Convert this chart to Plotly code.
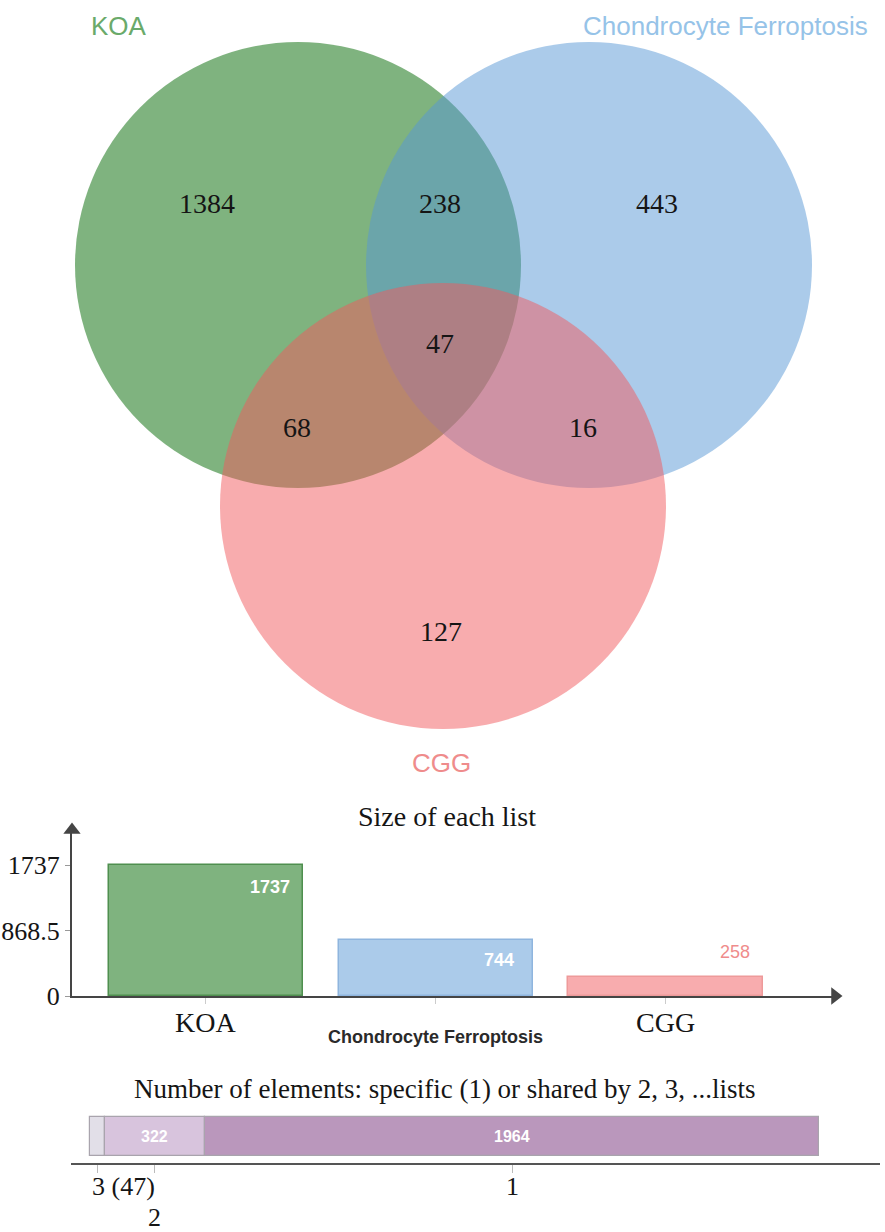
import plotly.graph_objects as go

# ---- data ----
set_names = ["KOA", "Chondrocyte Ferroptosis", "CGG"]
set_sizes = [1737, 744, 258]

region_names = ["KOA only", "KOA & CF", "CF only", "all three", "KOA & CGG", "CF & CGG", "CGG only"]
region_counts = [1384, 238, 443, 47, 68, 16, 127]

shared_labels = ["3", "2", "1"]          # shared by n lists
shared_counts = [47, 322, 1964]

size_ticks = [0, 868.5, 1737]

# ---- styling / layout ----
W, H = 885, 1232
venn_fill = ["rgba(0,103,0,0.5)", "rgba(87,151,213,0.5)", "rgba(241,89,93,0.5)"]
bar_line = ["#4f8f4f", "#8fb5de", "#ee9a9a"]
label_col = ["#6aaa6a", "#96c3e8", "#ef8c8c"]
seg_fill = ["#e2dfe8", "#d8c4dd", "#ba97bc"]
SERIF = "Liberation Serif"
SANS = "Liberation Sans"

def px(x):
    return x / W

def py(y):
    return 1 - y / H

def note(**kw):
    # centred annotation helper
    kw.setdefault("showarrow", False)
    kw.setdefault("xanchor", "center")
    kw.setdefault("yanchor", "middle")
    fig.add_annotation(**kw)

# circle centres / radius in pixel space of the venn panel
circles = [(298, 265), (589, 265), (443, 506)]
R = 223
region_pos = [(207, 206), (440, 206), (657, 206), (440, 346), (297, 430), (583, 430), (441, 634)]
set_label_pos = [(119, 26), (725, 26), (441, 763)]

fig = go.Figure()

# ---------------- venn ----------------
for (cx, cy), col in zip(circles, venn_fill):
    fig.add_shape(type="circle", xref="x", yref="y",
                  x0=cx - R, x1=cx + R, y0=cy - R, y1=cy + R,
                  fillcolor=col, line=dict(width=0), layer="below")

fig.add_trace(go.Scatter(
    x=[p[0] for p in region_pos], y=[p[1] for p in region_pos],
    text=[str(v) for v in region_counts], mode="text",
    textfont=dict(family=SERIF, size=28, color="#151515"),
    hovertext=region_names, showlegend=False, xaxis="x", yaxis="y"))

for name, (lx, ly), col in zip(set_names, set_label_pos, label_col):
    note(x=px(lx), y=py(ly), xref="paper", yref="paper", text=name,
         font=dict(family=SANS, size=26, color=col))

# ---------------- size of each list ----------------
cats = list(range(len(set_names)))
fig.add_trace(go.Bar(
    x=cats, y=set_sizes, width=0.845,
    marker=dict(color=venn_fill, line=dict(color=bar_line, width=1.5)),
    showlegend=False, xaxis="x2", yaxis="y2"))

# bar value labels
val_shift = [(64, -22, "white"), (63, -20, "white"), (70, 25, "#ef8c8c")]
for c, v, (xs, ys, col) in zip(cats, set_sizes, val_shift):
    note(x=c, y=v, xref="x2", yref="y2", text=str(v), xshift=xs, yshift=ys,
         font=dict(family=SANS, size=18, color=col,
                   weight="bold" if col == "white" else "normal"))

# category labels (mixed fonts as in the picture)
cat_font = [dict(family=SERIF, size=28, color="#151515"),
            dict(family=SANS, size=18, color="#2a2a2a", weight="bold"),
            dict(family=SERIF, size=28, color="#151515")]
cat_y = [1022, 1037, 1022]
for c, name, f, yy in zip(cats, set_names, cat_font, cat_y):
    note(x=c, y=py(yy), xref="x2", yref="paper", text=name, font=f)

x2_lo, x2_hi = -0.583, 2.738
y2_hi = (996 - 830) / 131 * 1737

# axis arrows
fig.add_trace(go.Scatter(x=[x2_hi], y=[0], mode="markers", cliponaxis=False,
                         marker=dict(symbol="triangle-right", size=15, color="#454545"),
                         showlegend=False, hoverinfo="skip", xaxis="x2", yaxis="y2"))
fig.add_trace(go.Scatter(x=[x2_lo], y=[y2_hi], mode="markers", cliponaxis=False,
                         marker=dict(symbol="triangle-up", size=15, color="#454545"),
                         showlegend=False, hoverinfo="skip", xaxis="x2", yaxis="y2"))

note(x=px(447), y=py(816), xref="paper", yref="paper", text="Size of each list",
     font=dict(family=SERIF, size=28, color="#151515"))

# ---------------- shared by n lists ----------------
total = sum(shared_counts)
start = 0
mids = []
for lab, v, col in zip(shared_labels, shared_counts, seg_fill):
    fig.add_trace(go.Bar(
        x=[v], y=[0.5], base=[start], orientation="h", width=0.72,
        marker=dict(color=col, line=dict(color="#a9a4ad", width=1.2)),
        showlegend=False, xaxis="x3", yaxis="y3"))
    mids.append(start + v / 2)
    if v > 100:
        note(x=start + v / 2, y=0.5, xref="x3", yref="y3", text=str(v),
             font=dict(family=SANS, size=16, color="white", weight="bold"))
    start += v

# tick labels under the stacked bar
tick_txt = ["%s (%d)" % (shared_labels[0], shared_counts[0]), shared_labels[1], shared_labels[2]]
tick_y = [1186, 1217, 1186]
tick_anchor = ["left", "center", "center"]
tick_shift = [-7, 0, 0]
for m, t, yy, an, xs in zip(mids, tick_txt, tick_y, tick_anchor, tick_shift):
    note(x=m, y=py(yy), xref="x3", yref="paper", text=t, xanchor=an, xshift=xs,
         font=dict(family=SERIF, size=26, color="#151515"))

note(x=px(445), y=py(1089), xref="paper", yref="paper",
     text="Number of elements: specific (1) or shared by 2, 3, ...lists",
     font=dict(family=SERIF, size=27, color="#151515"))

unit = (819 - 90) / total
x3_lo = (71 - 90) / unit
x3_hi = (880 - 90) / unit

fig.update_layout(
    width=W, height=H,
    margin=dict(l=0, r=0, t=0, b=0, autoexpand=False),
    paper_bgcolor="white", plot_bgcolor="rgba(0,0,0,0)",
    barmode="overlay", bargap=0,
    xaxis=dict(domain=[0, 1], range=[0, W], visible=False, fixedrange=True, automargin=False),
    yaxis=dict(domain=[py(790), 1], range=[790, 0], visible=False, fixedrange=True, automargin=False),
    xaxis2=dict(domain=[px(72), px(835)], range=[x2_lo, x2_hi], anchor="y2",
                showline=True, linecolor="#454545", linewidth=2, automargin=False,
                tickvals=cats, ticks="outside", ticklen=6, tickcolor="#cccccc",
                showticklabels=False, showgrid=False, zeroline=False),
    yaxis2=dict(domain=[py(996), py(830)], range=[0, y2_hi], anchor="x2",
                showline=True, linecolor="#454545", linewidth=2, automargin=False,
                tickvals=size_ticks, ticktext=[("%g" % t) for t in size_ticks],
                ticks="outside", ticklen=5, tickcolor="#999999",
                tickfont=dict(family=SERIF, size=26, color="#151515"),
                showgrid=False, zeroline=False),
    xaxis3=dict(domain=[px(71), px(880)], range=[x3_lo, x3_hi], anchor="y3",
                showline=True, linecolor="#555555", linewidth=2, automargin=False,
                tickvals=mids, ticks="outside", ticklen=8, tickcolor="#bbbbbb",
                showticklabels=False, showgrid=False, zeroline=False),
    yaxis3=dict(domain=[py(1163), py(1110)], range=[0, 1], anchor="x3",
                visible=False, fixedrange=True, automargin=False),
)

fig.write_html("out.html", config=dict(displayModeBar=False),
               post_script="document.body.style.margin='0';")
